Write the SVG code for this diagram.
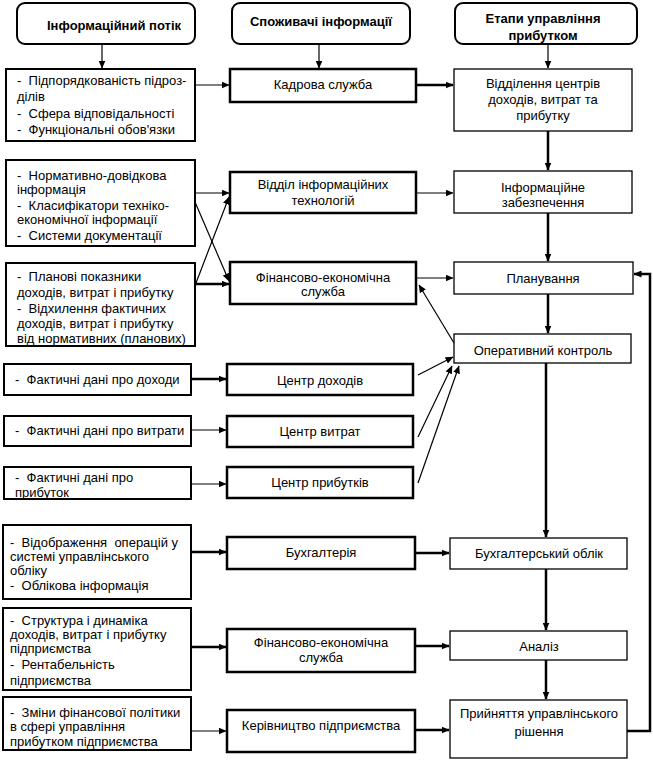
<svg xmlns="http://www.w3.org/2000/svg" width="653" height="762" viewBox="0 0 653 762">
<style>
.b{fill:#fff;stroke:#000}
.hb{stroke-width:2}
.lb{stroke-width:2}
.mb{stroke-width:2.5}
.rb{stroke-width:1.3}
text{font-family:"Liberation Sans",Arial,sans-serif;font-size:13px;fill:#000;white-space:pre}
.c{text-anchor:middle}
.h{font-weight:bold}
.t{stroke:#000;stroke-width:1.2;fill:none;marker-end:url(#a)}
.k{stroke:#000;stroke-width:2.5;fill:none;marker-end:url(#a)}
</style>
<defs>
<marker id="a" markerUnits="userSpaceOnUse" markerWidth="8" markerHeight="7" refX="7.5" refY="3.5" orient="auto">
<path d="M0,0 L8,3.5 L0,7 z" fill="#000"/>
</marker>
</defs>

<g id="h1"><rect class="b hb" x="17" y="3" width="178" height="41" rx="8"/><text class="c h" x="114" y="30">Інформаційний потік</text></g>
<g id="h2"><rect class="b hb" x="232" y="3" width="178" height="41" rx="8"/><text class="c h" x="321" y="26">Споживачі інформації</text></g>
<g id="h3"><rect class="b hb" x="455" y="3" width="182" height="41" rx="8"/><text class="c h" x="543" y="23">Етапи управління</text><text class="c h" x="543" y="40">прибутком</text></g>

<g id="l1"><rect class="b lb" x="6" y="69" width="189" height="72"/>
<text x="17" y="85">-  Підпорядкованість підроз-</text><text x="17" y="101">ділів</text><text x="17" y="118">-  Сфера відповідальності</text><text x="17" y="134">-  Функціональні обов'язки</text></g>
<g id="l2"><rect class="b lb" x="6" y="160" width="189" height="86"/>
<text x="17" y="180">-  Нормативно-довідкова</text><text x="17" y="194">інформація</text><text x="17" y="210">-  Класифікатори техніко-</text><text x="17" y="224">економічної інформації</text><text x="17" y="240">-  Системи документації</text></g>
<g id="l3"><rect class="b lb" x="6" y="263" width="189" height="83"/>
<text x="17" y="281">-  Планові показники</text><text x="17" y="297">доходів, витрат і прибутку</text><text x="17" y="313">-  Відхилення фактичних</text><text x="17" y="328">доходів, витрат і прибутку</text><text x="17" y="343">від нормативних (планових)</text></g>
<g id="l4"><rect class="b lb" x="4" y="364" width="187" height="31"/><text x="15" y="384">-  Фактичні дані про доходи</text></g>
<g id="l5"><rect class="b lb" x="4" y="416" width="187" height="30"/><text x="15" y="435">-  Фактичні дані про витрати</text></g>
<g id="l6"><rect class="b lb" x="4" y="467" width="187" height="32"/><text x="15" y="482">-  Фактичні дані про</text><text x="15" y="497">прибуток</text></g>
<g id="l7"><rect class="b lb" x="3" y="525" width="188" height="74"/>
<text x="10" y="547">-  Відображення  операцій у</text><text x="10" y="561">системі управлінського</text><text x="10" y="575">обліку</text><text x="10" y="590">-  Облікова інформація</text></g>
<g id="l8"><rect class="b lb" x="3" y="608" width="188" height="82"/>
<text x="10" y="625">-  Структура і динаміка</text><text x="10" y="639">доходів, витрат і прибутку</text><text x="10" y="653">підприємства</text><text x="10" y="669">-  Рентабельність</text><text x="10" y="685">підприємства</text></g>
<g id="l9"><rect class="b lb" x="3" y="697" width="188" height="53"/>
<text x="10" y="717">-  Зміни фінансової політики</text><text x="10" y="731">в сфері управління</text><text x="10" y="746">прибутком підприємства</text></g>

<g id="m1"><rect class="b mb" x="230" y="69" width="186" height="33"/><text class="c" x="323" y="89">Кадрова служба</text></g>
<g id="m2"><rect class="b mb" x="230" y="172" width="186" height="41"/><text class="c" x="323" y="189">Відділ інформаційних</text><text class="c" x="323" y="205">технологій</text></g>
<g id="m3"><rect class="b mb" x="230" y="262" width="186" height="42"/><text class="c" x="323" y="282">Фінансово-економічна</text><text class="c" x="323" y="296">служба</text></g>
<g id="m4"><rect class="b mb" x="227" y="364" width="186" height="31"/><text class="c" x="320" y="385">Центр доходів</text></g>
<g id="m5"><rect class="b mb" x="227" y="416" width="186" height="31"/><text class="c" x="320" y="436">Центр витрат</text></g>
<g id="m6"><rect class="b mb" x="227" y="467" width="186" height="31"/><text class="c" x="320" y="487">Центр прибутків</text></g>
<g id="m7"><rect class="b mb" x="227" y="537" width="188" height="32"/><text class="c" x="321" y="557">Бухгалтерія</text></g>
<g id="m8"><rect class="b mb" x="227" y="629" width="188" height="43"/><text class="c" x="321" y="647">Фінансово-економічна</text><text class="c" x="321" y="662">служба</text></g>
<g id="m9"><rect class="b mb" x="227" y="710" width="188" height="42"/><text class="c" x="321" y="730">Керівництво підприємства</text></g>

<g id="r1"><rect class="b rb" x="454" y="69" width="178" height="62"/><text class="c" x="543" y="88">Відділення центрів</text><text class="c" x="543" y="104">доходів, витрат та</text><text class="c" x="543" y="120">прибутку</text></g>
<g id="r2"><rect class="b rb" x="454" y="171" width="178" height="42"/><text class="c" x="543" y="192">Інформаційне</text><text class="c" x="543" y="207">забезпечення</text></g>
<g id="r3"><rect class="b rb" x="454" y="262" width="179" height="32"/><text class="c" x="543" y="283">Планування</text></g>
<g id="r4"><rect class="b rb" x="454" y="334" width="177" height="29"/><text class="c" x="543" y="355">Оперативний контроль</text></g>
<g id="r5"><rect class="b rb" x="450" y="538" width="177" height="31"/><text class="c" x="539" y="558">Бухгалтерський облік</text></g>
<g id="r6"><rect class="b rb" x="450" y="631" width="177" height="29"/><text class="c" x="539" y="651">Аналіз</text></g>
<g id="r7"><rect class="b rb" x="450" y="700" width="177" height="58"/><text class="c" x="539" y="718">Прийняття управлінського</text><text class="c" x="539" y="736">рішення</text></g>

<g id="connectors">
<path class="t" d="M102 44V68"/>
<path class="t" d="M319 44V68"/>
<path class="t" d="M548 44V68"/>
<path class="t" d="M195 85H229"/>
<path class="k" d="M416 85H453"/>
<path class="k" d="M548 131V170"/>
<path class="t" d="M195 193H229"/>
<path class="t" d="M416 193H453"/>
<path class="t" d="M195 202L229 281"/>
<path class="t" d="M196 283L229 197"/>
<path class="k" d="M195 284H229"/>
<path class="k" d="M548 213V261"/>
<path class="t" d="M416 278H453"/>
<path class="k" d="M548 294V333"/>
<path class="t" d="M454 343L419 285"/>
<path class="k" d="M191 379H226"/>
<path class="t" d="M191 430H226"/>
<path class="t" d="M191 484H226"/>
<path class="t" d="M418 375L453 357"/>
<path class="t" d="M418 437L452 366"/>
<path class="t" d="M418 483L459 366"/>
<path class="k" d="M546 363V537"/>
<path class="k" d="M191 552H226"/>
<path class="k" d="M415 553H449"/>
<path class="k" d="M546 569V630"/>
<path class="k" d="M191 647H226"/>
<path class="k" d="M415 646H449"/>
<path class="k" d="M546 660V699"/>
<path class="t" d="M191 731H226"/>
<path class="k" d="M415 730H449"/>
<path class="k" d="M627 731H650V274H634"/>
</g>
</svg>
